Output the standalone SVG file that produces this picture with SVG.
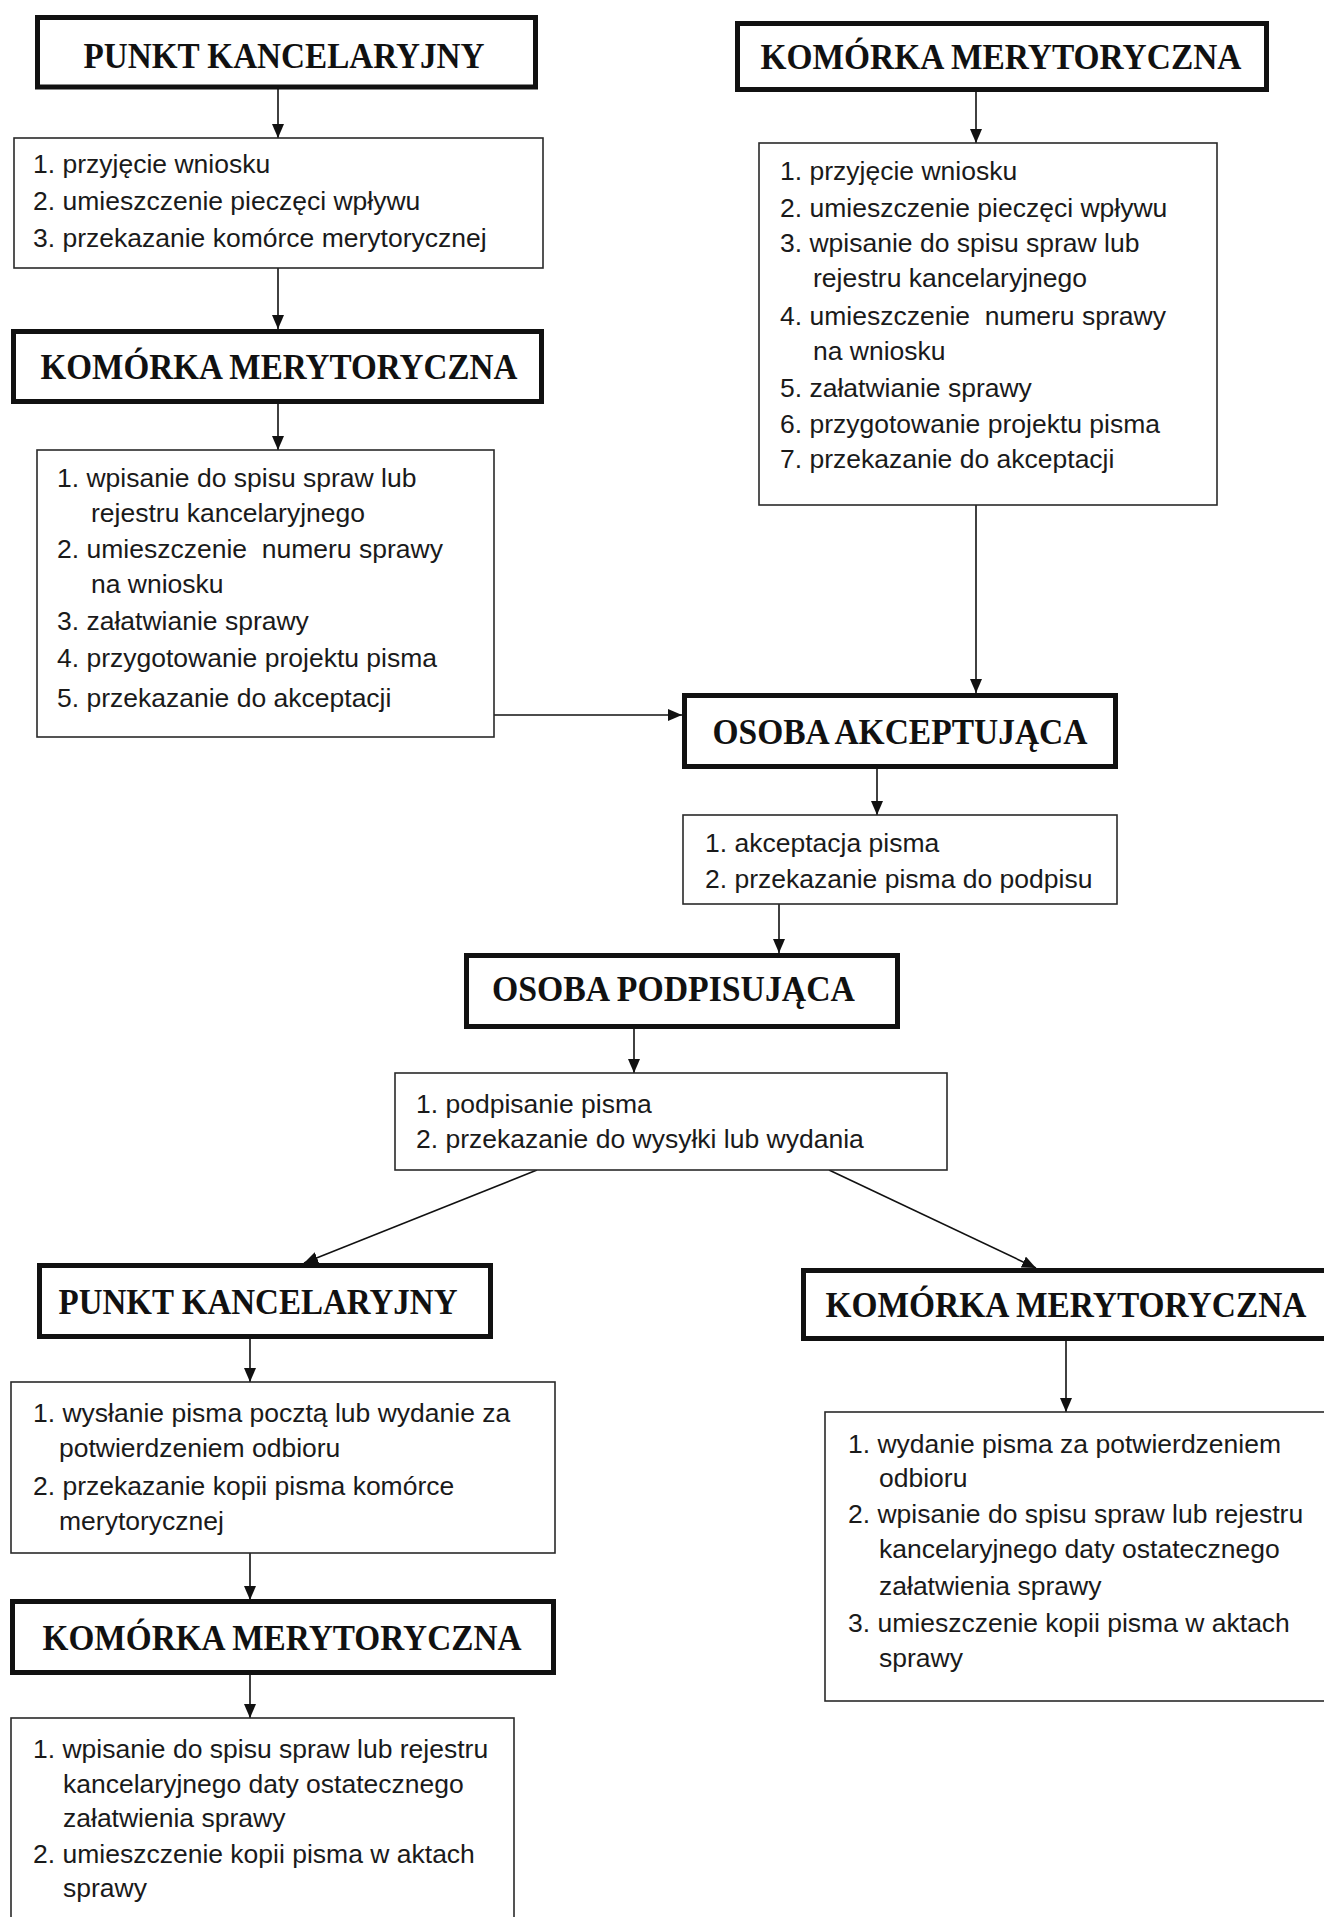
<svg xmlns="http://www.w3.org/2000/svg" width="1324" height="1917" viewBox="0 0 1324 1917">
<style>
.hb{fill:#fff;stroke:#111;stroke-width:5}
.tb{fill:#fff;stroke:#2a2a2a;stroke-width:1.6}
.ht{font-family:"Liberation Serif","Times New Roman",serif;font-weight:bold;font-size:35px;fill:#111;text-anchor:middle}
.bt{font-family:"Liberation Sans",Arial,sans-serif;font-size:26.5px;fill:#1a1a1a;white-space:pre}
.cn{stroke:#111;stroke-width:1.6;fill:none;marker-end:url(#ah)}
</style>
<defs>
<marker id="ah" viewBox="0 0 14 12" markerWidth="14" markerHeight="12" refX="14" refY="6" orient="auto" markerUnits="userSpaceOnUse">
<path d="M0,0 L14,6 L0,12 z" fill="#111"/>
</marker>
</defs>
<rect width="1324" height="1917" fill="#fff"/>

<g id="connectors">
<line class="cn" x1="278" y1="89" x2="278" y2="138"/>
<line class="cn" x1="278" y1="268" x2="278" y2="329"/>
<line class="cn" x1="278" y1="404" x2="278" y2="450"/>
<line class="cn" x1="976" y1="92" x2="976" y2="143"/>
<line class="cn" x1="976" y1="505" x2="976" y2="693"/>
<line class="cn" x1="494" y1="715" x2="682" y2="715"/>
<line class="cn" x1="877" y1="769" x2="877" y2="815"/>
<line class="cn" x1="779" y1="904" x2="779" y2="953"/>
<line class="cn" x1="634" y1="1029" x2="634" y2="1073"/>
<line class="cn" x1="537" y1="1170" x2="304" y2="1263"/>
<line class="cn" x1="829" y1="1170" x2="1036" y2="1268"/>
<line class="cn" x1="250" y1="1339" x2="250" y2="1382"/>
<line class="cn" x1="250" y1="1553" x2="250" y2="1600"/>
<line class="cn" x1="250" y1="1675" x2="250" y2="1718"/>
<line class="cn" x1="1066" y1="1341" x2="1066" y2="1412"/>
</g>

<g id="h-punkt-1">
<rect class="hb" x="37.5" y="17.5" width="498" height="69.5"/>
<text class="ht" x="284" y="67.5" textLength="401" lengthAdjust="spacingAndGlyphs">PUNKT KANCELARYJNY</text>
</g>
<g id="b-punkt-1">
<rect class="tb" x="14" y="138" width="529" height="130"/>
<text class="bt" x="33" y="173">1. przyjęcie wniosku</text>
<text class="bt" x="33" y="210">2. umieszczenie pieczęci wpływu</text>
<text class="bt" x="33" y="247">3. przekazanie komórce merytorycznej</text>
</g>
<g id="h-komorka-left">
<rect class="hb" x="13.5" y="331.5" width="528" height="70"/>
<text class="ht" x="279" y="379" textLength="477" lengthAdjust="spacingAndGlyphs">KOMÓRKA MERYTORYCZNA</text>
</g>
<g id="b-komorka-left">
<rect class="tb" x="37" y="450" width="457" height="287"/>
<text class="bt" x="57" y="487">1. wpisanie do spisu spraw lub</text>
<text class="bt" x="91" y="522">rejestru kancelaryjnego</text>
<text class="bt" x="57" y="558">2. umieszczenie  numeru sprawy</text>
<text class="bt" x="91" y="593">na wniosku</text>
<text class="bt" x="57" y="630">3. załatwianie sprawy</text>
<text class="bt" x="57" y="667">4. przygotowanie projektu pisma</text>
<text class="bt" x="57" y="707">5. przekazanie do akceptacji</text>
</g>
<g id="h-komorka-right">
<rect class="hb" x="737.5" y="23.5" width="529" height="66"/>
<text class="ht" x="1001" y="69" textLength="481" lengthAdjust="spacingAndGlyphs">KOMÓRKA MERYTORYCZNA</text>
</g>
<g id="b-komorka-right">
<rect class="tb" x="759" y="143" width="458" height="362"/>
<text class="bt" x="780" y="180">1. przyjęcie wniosku</text>
<text class="bt" x="780" y="217">2. umieszczenie pieczęci wpływu</text>
<text class="bt" x="780" y="252">3. wpisanie do spisu spraw lub</text>
<text class="bt" x="813" y="287">rejestru kancelaryjnego</text>
<text class="bt" x="780" y="325">4. umieszczenie  numeru sprawy</text>
<text class="bt" x="813" y="360">na wniosku</text>
<text class="bt" x="780" y="397">5. załatwianie sprawy</text>
<text class="bt" x="780" y="433">6. przygotowanie projektu pisma</text>
<text class="bt" x="780" y="468">7. przekazanie do akceptacji</text>
</g>
<g id="h-akceptujaca">
<rect class="hb" x="684.5" y="695.5" width="431" height="71"/>
<text class="ht" x="900" y="743.5" textLength="375" lengthAdjust="spacingAndGlyphs">OSOBA AKCEPTUJĄCA</text>
</g>
<g id="b-akceptujaca">
<rect class="tb" x="683" y="815" width="434" height="89"/>
<text class="bt" x="705" y="852">1. akceptacja pisma</text>
<text class="bt" x="705" y="888">2. przekazanie pisma do podpisu</text>
</g>
<g id="h-podpisujaca">
<rect class="hb" x="466.5" y="955.5" width="431" height="71"/>
<text class="ht" x="673.5" y="1001" textLength="363" lengthAdjust="spacingAndGlyphs">OSOBA PODPISUJĄCA</text>
</g>
<g id="b-podpisujaca">
<rect class="tb" x="395" y="1073" width="552" height="97"/>
<text class="bt" x="416" y="1113">1. podpisanie pisma</text>
<text class="bt" x="416" y="1148">2. przekazanie do wysyłki lub wydania</text>
</g>
<g id="h-punkt-2">
<rect class="hb" x="39.5" y="1265.5" width="451" height="71"/>
<text class="ht" x="258" y="1313.5" textLength="399" lengthAdjust="spacingAndGlyphs">PUNKT KANCELARYJNY</text>
</g>
<g id="b-punkt-2">
<rect class="tb" x="11" y="1382" width="544" height="171"/>
<text class="bt" x="33" y="1422">1. wysłanie pisma pocztą lub wydanie za</text>
<text class="bt" x="59" y="1457">potwierdzeniem odbioru</text>
<text class="bt" x="33" y="1495">2. przekazanie kopii pisma komórce</text>
<text class="bt" x="59" y="1530">merytorycznej</text>
</g>
<g id="h-komorka-bottom-left">
<rect class="hb" x="12.5" y="1601.5" width="541" height="71"/>
<text class="ht" x="282" y="1649.5" textLength="479" lengthAdjust="spacingAndGlyphs">KOMÓRKA MERYTORYCZNA</text>
</g>
<g id="b-komorka-bottom-left">
<rect class="tb" x="11" y="1718" width="503" height="240"/>
<text class="bt" x="33" y="1758">1. wpisanie do spisu spraw lub rejestru</text>
<text class="bt" x="63" y="1793">kancelaryjnego daty ostatecznego</text>
<text class="bt" x="63" y="1827">załatwienia sprawy</text>
<text class="bt" x="33" y="1863">2. umieszczenie kopii pisma w aktach</text>
<text class="bt" x="63" y="1897">sprawy</text>
</g>
<g id="h-komorka-bottom-right">
<rect class="hb" x="803.5" y="1270.5" width="530" height="68"/>
<text class="ht" x="1066" y="1317" textLength="481" lengthAdjust="spacingAndGlyphs">KOMÓRKA MERYTORYCZNA</text>
</g>
<g id="b-komorka-bottom-right">
<rect class="tb" x="825" y="1412" width="520" height="289"/>
<text class="bt" x="848" y="1453">1. wydanie pisma za potwierdzeniem</text>
<text class="bt" x="879" y="1487">odbioru</text>
<text class="bt" x="848" y="1523">2. wpisanie do spisu spraw lub rejestru</text>
<text class="bt" x="879" y="1558">kancelaryjnego daty ostatecznego</text>
<text class="bt" x="879" y="1595">załatwienia sprawy</text>
<text class="bt" x="848" y="1632">3. umieszczenie kopii pisma w aktach</text>
<text class="bt" x="879" y="1667">sprawy</text>
</g>
</svg>
